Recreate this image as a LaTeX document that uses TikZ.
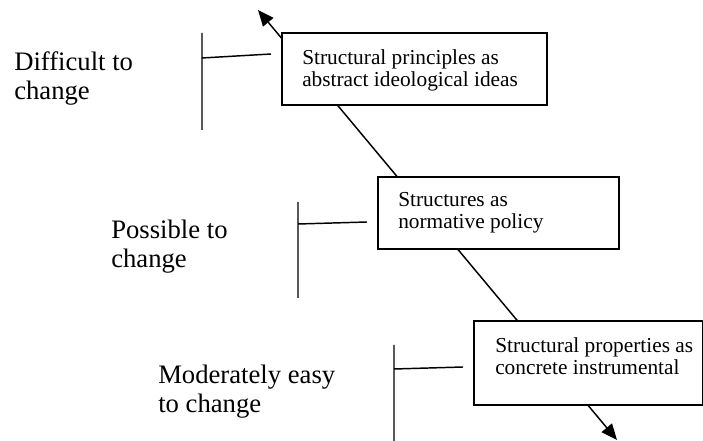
\documentclass[tikz,border=0pt]{standalone}
\usepackage{fontspec}
\setmainfont{Liberation Serif}
\usetikzlibrary{arrows.meta}

\tikzset{
  levelbox/.style={draw, line width=1.2pt, fill=white, rectangle, anchor=north west,
    inner sep=0pt},
  boxtext/.style={anchor=north west, inner sep=0pt, align=left,
    font=\fontsize{16}{16.5}\selectfont},
  levellabel/.style={anchor=north west, inner sep=0pt, align=left,
    font=\fontsize{20}{21.75}\selectfont},
  axisline/.style={line width=1.1pt, {Triangle[length=12pt,width=10pt]}-{Triangle[length=12pt,width=10pt]}},
  bracket/.style={line width=1.1pt}
}

\begin{document}
\begin{tikzpicture}[x=0.75pt, y=-0.75pt]
  \useasboundingbox (0,0) rectangle (703,441);

  % ends of the diagonal axis
  \coordinate (axtop) at (258,10);
  \coordinate (axbot) at (617,440);
  \draw[axisline] (axtop) -- (axbot);

  % the three level boxes
  \node[levelbox, minimum width=198.75pt, minimum height=54pt] (principles) at (281,32) {};
  \node[levelbox, minimum width=180.75pt, minimum height=54pt] (policy) at (377,176) {};
  \node[levelbox, minimum width=171.75pt, minimum height=63pt] (instrumental) at (473,320) {};

  % their texts
  \node[boxtext] (principlesText) at (302,49.5) {Structural principles as\\abstract ideological ideas};
  \node[boxtext] (policyText) at (398,192.5) {Structures as\\normative policy};
  \node[boxtext] (instrumentalText) at (495,337.5) {Structural properties as\\concrete instrumental};

  % brackets
  \coordinate (b1t) at (202,33);  \coordinate (b1b) at (202,130);
  \coordinate (b1a) at (202,58);  \coordinate (b1e) at (271,54);
  \coordinate (b2t) at (298,202); \coordinate (b2b) at (298,298);
  \coordinate (b2a) at (298,224); \coordinate (b2e) at (367,222);
  \coordinate (b3t) at (394,345); \coordinate (b3b) at (394,445);
  \coordinate (b3a) at (394,369); \coordinate (b3e) at (463,367);
  \draw[bracket] (b1t) -- (b1b) (b1a) -- (b1e);
  \draw[bracket] (b2t) -- (b2b) (b2a) -- (b2e);
  \draw[bracket] (b3t) -- (b3b) (b3a) -- (b3e);

  % labels
  \node[levellabel] (hard) at (14,51.5) {Difficult to\\change};
  \node[levellabel] (possible) at (111,219.5) {Possible to\\change};
  \node[levellabel] (easy) at (158,364.5) {Moderately easy\\to change};
\end{tikzpicture}
\end{document}
